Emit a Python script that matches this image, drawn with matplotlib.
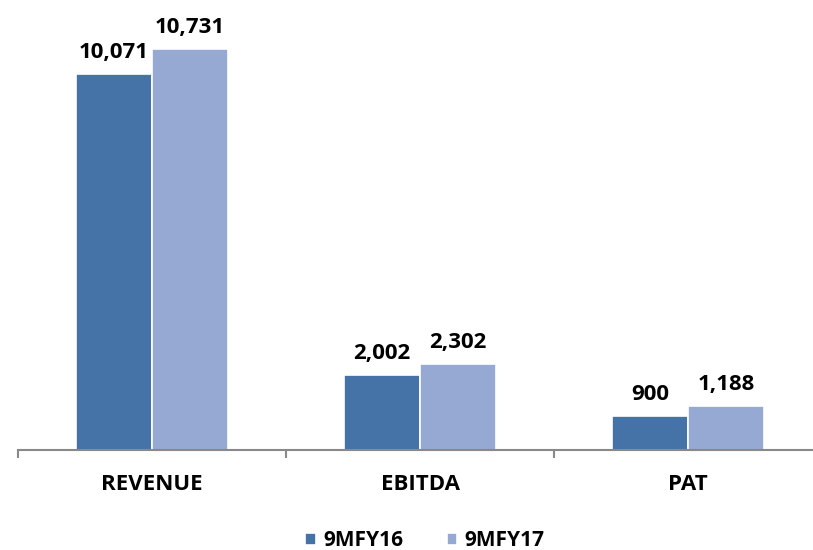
import matplotlib
matplotlib.use("Agg")
from matplotlib import pyplot as plt

categorias = ["REVENUE", "EBITDA", "PAT"]
series = ["9MFY16", "9MFY17"]
fy16 = [10071, 2002, 900]
fy17 = [10731, 2302, 1188]

cores = ["#4572A7", "#95A9D3"]

plt.rcParams['font.family'] = ['Open Sans', 'DejaVu Sans']

fig = plt.figure(figsize=(8.13, 5.5), dpi=100)
# eixo estende-se para lá da margem direita, como no original
ax = fig.add_axes([18 / 813, 100 / 550, 804 / 813, 448 / 550])

largura = 0.283
x = list(range(len(categorias)))
for i, (valores, cor, nome) in enumerate(zip([fy16, fy17], cores, series)):
    desloc = (i - 0.5) * largura
    barras = ax.bar([p + desloc for p in x], valores, width=largura, color=cor,
                    edgecolor="white", linewidth=1.2, label=nome)
    for b, v in zip(barras, valores):
        ax.annotate(f"{v:,}", (b.get_x() + b.get_width() / 2, v),
                    xytext=(0, 8), textcoords="offset points",
                    ha="center", va="bottom", fontsize=16, fontweight="bold")

ax.set_xlim(-0.5, 2.5)
ax.set_ylim(0, 12000)
for s in ["top", "right", "left"]:
    ax.spines[s].set_visible(False)
ax.spines["bottom"].set_color("#898989")
ax.spines["bottom"].set_linewidth(1.5)
ax.set_yticks([])

ax.set_xticks(x)
ax.set_xticklabels(categorias, fontsize=16, fontweight="bold")
ax.tick_params(axis="x", which="major", length=0, pad=17)
ax.set_xticks([-0.5, 0.5, 1.5, 2.5], minor=True)
ax.tick_params(axis="x", which="minor", length=6, width=1.5, color="#898989", direction="out")

fig.legend(loc="center", bbox_to_anchor=(425 / 813, 1 - 541 / 550), ncol=2,
           frameon=False, handlelength=0.5, handleheight=0.5, handletextpad=0.35,
           columnspacing=2.1, prop={"size": 15, "weight": "bold"})

fig.savefig("out.png", dpi=100)
